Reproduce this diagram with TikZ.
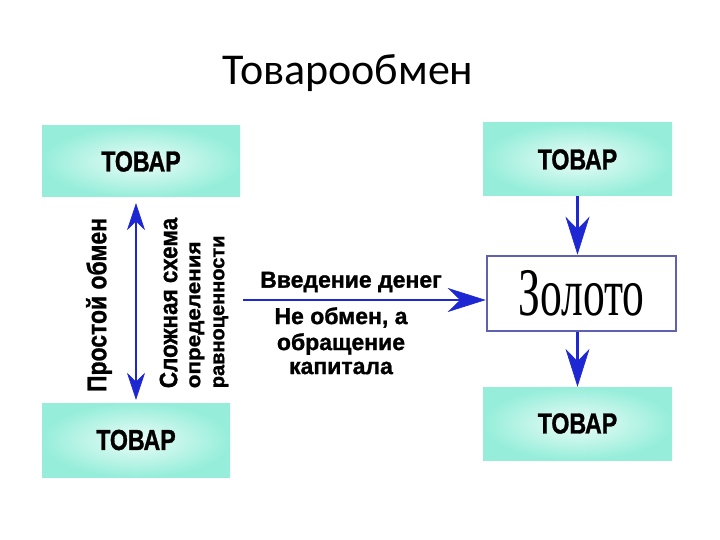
\documentclass[tikz,border=0pt]{standalone}
\usepackage{fontspec}
\setmainfont{Liberation Sans}[BoldFeatures={FakeBold=1.2}]
\newfontfamily\titlefont{Carlito}
\newfontfamily\goldfont{Liberation Serif}
\usepackage{xcolor}
\usepackage{graphicx}
\usetikzlibrary{arrows.meta}
\definecolor{boxcyan}{RGB}{150,238,218}
\definecolor{boxlight}{RGB}{236,252,248}
\definecolor{arrowblue}{RGB}{30,40,210}
\definecolor{goldframe}{RGB}{96,96,176}

\tikzset{
  tovar/.style={rectangle, inner color=boxlight, outer color=boxcyan,
    minimum width=189pt, minimum height=73pt, inner sep=0pt},
  bigtip/.style={-{Stealth[length=38pt,width=24pt,line width=0.6pt]}},
  flow/.style={draw=arrowblue, line width=2.8pt},
  lbl/.style={font=\bfseries\fontsize{23}{27}\selectfont, inner sep=0pt}
}
\newcommand{\tovar}{\scalebox{0.8}[1]{\fontsize{29}{29}\selectfont\bfseries ТОВАР}}

\begin{document}
\begin{tikzpicture}[x=1pt,y=-1pt]
\useasboundingbox (0,0) rectangle (720,540);

\node[inner sep=0pt, font=\titlefont\fontsize{44}{44}\selectfont] (title) at (348,73) {Товарообмен};

% left: simple exchange
\node[tovar, minimum width=198pt, minimum height=71pt] (tl) at (141,161.5) {\tovar};
\node[tovar, minimum width=188pt, minimum height=74pt] (bl) at (136,440) {\tovar};
\draw[flow, {Stealth[length=27pt,width=18pt,line width=0.6pt]}-{Stealth[length=27pt,width=18pt,line width=0.6pt]},
  shorten <=6pt, shorten >=3pt] (bl.north |- tl.south) -- (bl.north);

\node[lbl, rotate=90] (simple) at (99,305) {\scalebox{0.85}[1]{\fontsize{27}{27}\selectfont Простой обмен}};
\node[lbl, rotate=90, align=left, anchor=center] (complex) at (194,303)
  {\scalebox{0.9}[1]{\fontsize{25}{25}\selectfont Сложная схема}\\[-4pt]
   \scalebox{1.12}[1]{\fontsize{20}{20}\selectfont определения}\\[-3pt]
   \scalebox{1.0}[1]{\fontsize{20}{20}\selectfont равноценности}};

% right: exchange through gold
\node[tovar] (tr) at (577.5,159.5) {\tovar};
\node[draw=goldframe, line width=2.6pt, fill=white, minimum width=189pt, minimum height=75pt,
  inner sep=0pt] (gold) at (581.5,293.5)
  {\raisebox{2pt}{\scalebox{0.64}[1]{\goldfont\fontsize{68}{68}\selectfont Золото}}};
\node[tovar] (br) at (577.5,423.5) {\tovar};

\draw[flow, bigtip] (tr.south) -- (tr.south |- gold.north);
\draw[flow, bigtip] (tr.south |- gold.south) -- (tr.south |- br.north);

% money
\coordinate (money) at (243,300);
\draw[flow, bigtip] (money) -- (money -| gold.west);
\node[lbl] (intro) at (351,282) {Введение денег};
\node[lbl, align=center, anchor=north] (capital) at (341,307)
  {Не обмен, а\\[-1pt] обращение\\[-3pt] капитала};
\end{tikzpicture}
\end{document}
